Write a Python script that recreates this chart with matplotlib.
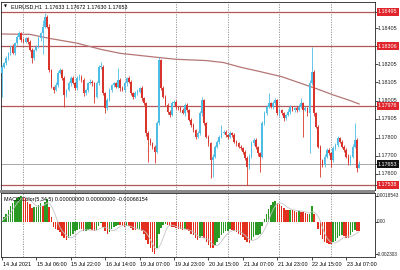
import numpy as np
import pandas as pd
import matplotlib
matplotlib.use("Agg")
import matplotlib.pyplot as plt
import matplotlib.transforms as mtransforms
from matplotlib.patches import Rectangle

plt.rcParams['font.family'] = ['Liberation Sans', 'DejaVu Sans']

# EURUSD H1 candles, 14 Jul 14:00 .. 23 Jul 13:00 (167 bars)
first_open = 1.18156
closes = [
    1.18193, 1.18211, 1.18239, 1.18266, 1.18303, 1.18266, 1.18322, 1.18359, 1.18377, 1.18340,
    1.18331, 1.18349, 1.18331, 1.18285, 1.18239, 1.18285, 1.18303, 1.18349, 1.18377, 1.18414,
    1.18469, 1.18414, 1.18174, 1.18082, 1.18063, 1.18091, 1.18156, 1.18174, 1.18128, 1.18036,
    1.18063, 1.18100, 1.18128, 1.18100, 1.18073, 1.18128, 1.18137, 1.18119, 1.18045, 1.18063,
    1.18100, 1.18110, 1.18100, 1.18027, 1.18100, 1.18193, 1.18193, 1.18045, 1.17962, 1.18008,
    1.18063, 1.18091, 1.18100, 1.18082, 1.18119, 1.18073, 1.18063, 1.18100, 1.18128, 1.18110,
    1.18045, 1.18027, 1.18045, 1.18054, 1.18073, 1.18017, 1.17990, 1.17824, 1.17787, 1.17768,
    1.17750, 1.17722, 1.17879, 1.18229, 1.18073, 1.18027, 1.17981, 1.17944, 1.17925, 1.17990,
    1.17999, 1.17971, 1.17962, 1.17953, 1.17934, 1.17981, 1.17953, 1.17898, 1.17870, 1.17842,
    1.17805, 1.17824, 1.17934, 1.18008, 1.17879, 1.17805, 1.17768, 1.17676, 1.17695, 1.17750,
    1.17778, 1.17805, 1.17824, 1.17833, 1.17815, 1.17805, 1.17824, 1.17815, 1.17778, 1.17768,
    1.17750, 1.17741, 1.17722, 1.17686, 1.17639, 1.17695, 1.17768, 1.17787, 1.17750, 1.17713,
    1.17695, 1.17879, 1.17934, 1.17971, 1.17990, 1.17971, 1.17990, 1.18008, 1.17934, 1.17953,
    1.17934, 1.17907, 1.17925, 1.17944, 1.17971, 1.17953, 1.17962, 1.17953, 1.17971, 1.17990,
    1.17953, 1.17962, 1.17934, 1.18100, 1.18165, 1.17934, 1.17861, 1.17750, 1.17676, 1.17649,
    1.17695, 1.17732, 1.17713, 1.17676, 1.17741, 1.17759, 1.17796, 1.17778, 1.17750, 1.17732,
    1.17695, 1.17658, 1.17695, 1.17750, 1.17787, 1.17633, 1.17653,
]
# wicks above / below the body, in points (0.00001)
upper_wick = [
    10, 8, 12, 6, 10, 14, 8, 10, 12, 6,
    10, 8, 6, 10, 8, 6, 10, 12, 8, 37,
    19, 10, 12, 8, 6, 14, 10, 12, 8, 10,
    8, 12, 10, 14, 6, 10, 12, 8, 10, 6,
    10, 12, 8, 6, 14, 10, 27, 8, 6, 10,
    12, 8, 10, 6, 64, 8, 10, 12, 9, 10,
    8, 6, 10, 12, 8, 10, 6, 8, 10, 12,
    8, 10, 14, 19, 8, 10, 6, 8, 10, 12,
    8, 10, 6, 12, 8, 10, 12, 6, 8, 10,
    8, 10, 12, 19, 8, 6, 10, 8, 12, 10,
    8, 10, 46, 8, 10, 6, 12, 8, 10, 6,
    8, 10, 6, 8, 10, 14, 12, 8, 10, 6,
    8, 14, 12, 10, 55, 8, 10, 10, 8, 12,
    6, 10, 8, 12, 10, 6, 8, 10, 12, 27,
    8, 10, 6, 18, 138, 10, 8, 6, 10, 8,
    12, 10, 8, 6, 10, 12, 10, 8, 6, 10,
    8, 12, 10, 14, 92, 8, 19,
]
lower_wick = [
    129, 10, 8, 12, 10, 6, 10, 8, 12, 10,
    8, 10, 12, 6, 28, 10, 8, 10, 12, 115,
    8, 10, 12, 10, 14, 8, 10, 6, 12, 65,
    10, 8, 12, 6, 10, 8, 10, 12, 14, 8,
    10, 6, 12, 37, 10, 8, 12, 10, 28, 10,
    8, 12, 10, 6, 10, 14, 8, 10, 12, 6,
    10, 12, 8, 10, 6, 12, 10, 14, 120, 10,
    12, 64, 10, 8, 12, 10, 6, 12, 10, 8,
    10, 12, 8, 10, 6, 12, 10, 8, 12, 10,
    14, 8, 10, 12, 8, 10, 12, 101, 92, 10,
    8, 12, 10, 6, 10, 12, 8, 10, 6, 12,
    10, 8, 12, 10, 101, 12, 10, 8, 12, 14,
    83, 10, 12, 8, 10, 6, 12, 8, 10, 12,
    8, 14, 10, 6, 12, 8, 10, 12, 6, 10,
    148, 8, 12, 221, 10, 12, 8, 10, 92, 14,
    10, 8, 12, 37, 10, 8, 12, 10, 6, 14,
    10, 12, 8, 10, 6, 21, 3,
]

# moving average, read at a few bars
ma_bars = [0, 13, 22, 35, 46, 55, 72, 81, 95, 103, 111, 120, 130, 139, 147, 154, 162, 166]
ma_vals = [1.18373, 1.18371, 1.18349, 1.18322, 1.18288, 1.18266, 1.18244, 1.18233, 1.18226,
           1.18215, 1.18189, 1.18165, 1.18137, 1.18100, 1.18067, 1.18036, 1.18004, 1.17986]

levels = [1.18495, 1.18306, 1.17976, 1.17538]
last_price = 1.17653
price_ticks = [1.18405, 1.18205, 1.18105, 1.18005, 1.17905, 1.17800, 1.17700, 1.17600]

macd_hist = [
    0.00005, 0.00034, 0.00058, 0.00083, 0.00112, 0.00136, 0.00155, 0.00167, 0.00180, 0.00185,
    0.00180, 0.00167, 0.00143, 0.00126, 0.00095, 0.00102, 0.00107, 0.00119, 0.00131, 0.00112,
    0.00143, 0.00165, 0.00107, 0.00034, -0.00039, -0.00053, -0.00058, -0.00075, -0.00100, -0.00116,
    -0.00131, -0.00116, -0.00100, -0.00083, -0.00068, -0.00058, -0.00049, -0.00053, -0.00063, -0.00063,
    -0.00058, -0.00053, -0.00058, -0.00068, -0.00058, -0.00029, -0.00010, -0.00034, -0.00063, -0.00083,
    -0.00073, -0.00053, -0.00039, -0.00029, -0.00019, -0.00021, -0.00029, -0.00034, -0.00029, -0.00031,
    -0.00044, -0.00058, -0.00060, -0.00053, -0.00051, -0.00068, -0.00087, -0.00126, -0.00160, -0.00189,
    -0.00214, -0.00230, -0.00184, -0.00087, -0.00044, -0.00019, -0.00015, -0.00019, -0.00029, -0.00034,
    -0.00039, -0.00044, -0.00049, -0.00053, -0.00058, -0.00053, -0.00058, -0.00068, -0.00083, -0.00097,
    -0.00116, -0.00126, -0.00116, -0.00100, -0.00116, -0.00141, -0.00165, -0.00184, -0.00189, -0.00165,
    -0.00141, -0.00116, -0.00092, -0.00078, -0.00068, -0.00063, -0.00053, -0.00055, -0.00063, -0.00073,
    -0.00083, -0.00092, -0.00107, -0.00126, -0.00146, -0.00150, -0.00126, -0.00107, -0.00097, -0.00092,
    -0.00083, -0.00029, 0.00019, 0.00058, 0.00092, 0.00119, 0.00141, 0.00150, 0.00136, 0.00126,
    0.00112, 0.00097, 0.00087, 0.00083, 0.00087, 0.00083, 0.00078, 0.00073, 0.00078, 0.00073,
    0.00068, 0.00063, 0.00053, 0.00058, 0.00116, 0.00058, 0.00000, -0.00053, -0.00092, -0.00121,
    -0.00146, -0.00150, -0.00155, -0.00157, -0.00146, -0.00136, -0.00116, -0.00102, -0.00097, -0.00102,
    -0.00112, -0.00116, -0.00097, -0.00073, -0.00055, -0.00062, -0.00068,
]

date_bars = [0, 16, 32, 48, 64, 80, 96, 112, 128, 144, 160]
date_labels = ["14 Jul 2021", "15 Jul 06:00", "15 Jul 22:00", "16 Jul 14:00", "19 Jul 07:00",
               "19 Jul 23:00", "20 Jul 15:00", "21 Jul 07:00", "21 Jul 23:00", "22 Jul 15:00",
               "23 Jul 07:00"]
day_bars = [10, 34, 57, 81, 105, 129, 153]

bull = '#4dbde6'
bear = '#d8342c'
fs = 3.9

c = np.array(closes)
o = np.r_[first_open, c[:-1]]
hi = np.maximum(o, c) + np.array(upper_wick) * 1e-5
lo = np.minimum(o, c) - np.array(lower_wick) * 1e-5
idx = np.arange(len(c))
cols = np.where(c >= o, bull, bear)

fig = plt.figure(figsize=(4, 2.7), dpi=100)
W, H = 400.0, 270.0
ax = fig.add_axes([1 / W, 1 - 190 / H, 374 / W, 188 / H])
ax2 = fig.add_axes([1 / W, 1 - 257 / H, 374 / W, 64 / H])
xlim = (-0.4, 173.4)

# main price panel
for d in day_bars:
    ax.axvline(d, color='#8c8c8c', lw=0.6, ls=(0, (1.5, 1.5)), zorder=0)
    ax2.axvline(d, color='#8c8c8c', lw=0.6, ls=(0, (1.5, 1.5)), zorder=0)
for lv in levels:
    ax.axhline(lv, color='#b25656', lw=0.9, zorder=1)
ax.axhline(last_price, color='#a8a8a8', lw=0.7, zorder=1)
ax.plot(ma_bars, ma_vals, color='#b47676', lw=0.9, zorder=2)
ax.vlines(idx, lo, hi, colors=cols, lw=0.6, zorder=3)
ax.bar(idx, np.maximum(np.abs(c - o), 0.00002), bottom=np.minimum(o, c), width=0.75,
       color=cols, linewidth=0, zorder=3)
ax.set_xlim(*xlim)
ax.set_ylim(1.17510, 1.18550)
ax.set_xticks([])
ax.yaxis.tick_right()
ax.set_yticks(price_ticks + levels + [last_price])
ax.tick_params(axis='y', length=2, width=0.5, labelright=False)

tr = mtransforms.blended_transform_factory(ax.transAxes, ax.transData)
for p in price_ticks:
    ax.text(1.008, p, f"{p:.5f}", transform=tr, fontsize=fs, va='center', ha='left', color='#202020')
for lv in levels:
    ax.text(1.008, lv, f"{lv:.5f}", transform=tr, fontsize=fs, va='center', ha='left', color='white',
            bbox=dict(boxstyle='square,pad=0.25', fc='#e0252c', ec='none'), clip_on=False)
ax.text(1.008, last_price, f"{last_price:.5f}", transform=tr, fontsize=fs, va='center', ha='left',
        color='white', bbox=dict(boxstyle='square,pad=0.25', fc='#111111', ec='none'))

ax.text(0.008, 0.975, "\u25bc", transform=ax.transAxes, fontsize=2.8, va='center', ha='left',
        family='DejaVu Sans')
ax.text(0.027, 0.975, "EURUSD,H1  1.17633 1.17672 1.17630 1.17653", transform=ax.transAxes,
        fontsize=fs, va='center', ha='left')

# MACD panel
hist = pd.Series(macd_hist)
hcols = np.where(hist.diff().fillna(0) >= 0, '#2a9a24', '#e3301e')
signal = hist.rolling(5, min_periods=1).mean()
ax2.bar(idx, hist, width=0.72, color=hcols, linewidth=0, zorder=2)
ax2.plot(idx, signal, color='#c4c4c4', lw=0.6, zorder=3)
ax2.set_xlim(*xlim)
ax2.set_ylim(-0.00250, 0.00205)
ax2.yaxis.tick_right()
ax2.set_yticks([0.0018543, 0.0, -0.002303])
ax2.tick_params(axis='y', length=2, width=0.5, labelright=False)
tr2 = mtransforms.blended_transform_factory(ax2.transAxes, ax2.transData)
for v, t in [(0.0018543, "0.0018543"), (0.0, "0.00"), (-0.002303, "-0.002303")]:
    ax2.text(1.005, v, t, transform=tr2, fontsize=3.4, va='center', ha='left', color='#202020')
ax2.text(0.008, 0.9, "MACD Color(5,34,5) 0.00000000 0.00000000 -0.00068154", transform=ax2.transAxes,
         fontsize=fs, va='center', ha='left')

ax2.set_xticks(date_bars)
ax2.set_xticklabels([])
ax2.tick_params(axis='x', length=2, width=0.5, direction='out')
trx = mtransforms.blended_transform_factory(ax2.transData, ax2.transAxes)
for b, lab in zip(date_bars, date_labels):
    ax2.text(b + 0.3, -0.08, lab, transform=trx, fontsize=fs, va='top', ha='left', clip_on=False)

for a in (ax, ax2):
    for s in a.spines.values():
        s.set_linewidth(0.6)
        s.set_color('#222222')

fig.patches.append(Rectangle((0, 1 - 193 / H), 375 / W, 3 / H, transform=fig.transFigure,
                             fc='#8a8a8a', ec='none'))

fig.savefig("out.png", dpi=100, facecolor='white')
